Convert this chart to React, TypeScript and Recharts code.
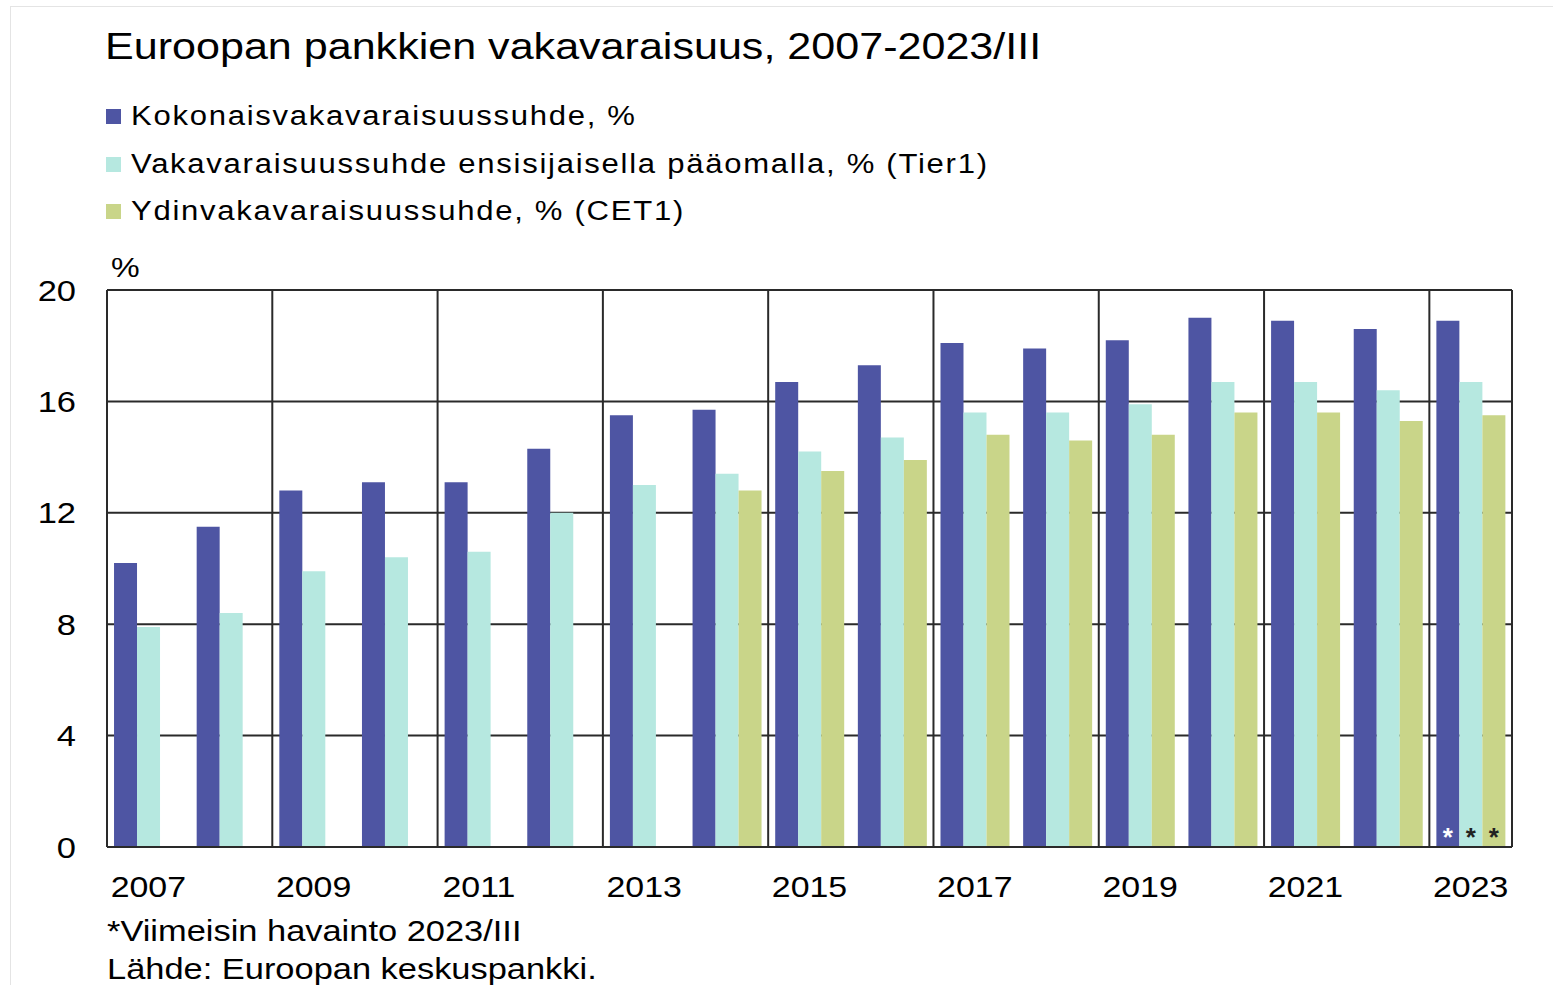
import React from "react";
import {
  BarChart,
  Bar,
  XAxis,
  YAxis,
  CartesianGrid,
  LabelList,
} from "recharts";

const years = [
  "2007", "2008", "2009", "2010", "2011", "2012", "2013", "2014", "2015",
  "2016", "2017", "2018", "2019", "2020", "2021", "2022", "2023",
];
const totalRatio = [
  10.2, 11.5, 12.8, 13.1, 13.1, 14.3, 15.5, 15.7, 16.7, 17.3, 18.1, 17.9, 18.2,
  19.0, 18.9, 18.6, 18.9,
];
const tier1Ratio = [
  7.9, 8.4, 9.9, 10.4, 10.6, 12.0, 13.0, 13.4, 14.2, 14.7, 15.6, 15.6, 15.9,
  16.7, 16.7, 16.4, 16.7,
];
const cet1Ratio = [
  null, null, null, null, null, null, null, 12.8, 13.5, 13.9, 14.8, 14.6, 14.8,
  15.6, 15.6, 15.3, 15.5,
];
const latestMark = years.map((y) => (y === "2023" ? "*" : ""));
const yTicks = [0, 4, 8, 12, 16, 20];

const data = years.map((year, i) => ({
  year,
  total: totalRatio[i],
  tier1: tier1Ratio[i],
  cet1: cet1Ratio[i],
  mark: latestMark[i],
}));

const FONT = "'Liberation Sans', Arial, sans-serif";
// the original picture is a bit stretched sideways
const STRETCH = 1.15;

const legend = [
  { color: "#4e55a3", label: "Kokonaisvakavaraisuussuhde, %" },
  {
    color: "#b6e8e0",
    label: "Vakavaraisuussuhde ensisijaisella pääomalla, % (Tier1)",
  },
  { color: "#c9d589", label: "Ydinvakavaraisuussuhde, % (CET1)" },
];

// gridlines every second year on category edges, plus the right border
const everyOtherYear = ({ offset }: any) => {
  const band = offset.width / years.length;
  const pts: number[] = [];
  for (let i = 0; i < years.length; i += 2) pts.push(offset.left + i * band);
  pts.push(offset.left + offset.width);
  return pts;
};

const StretchedTick = (props: any) => {
  const { x, y, payload, textAnchor, dy, scale } = props;
  return (
    <g transform={`translate(${x},${y})`}>
      <text
        transform={`scale(${scale},1)`}
        textAnchor={textAnchor}
        dy={dy}
        fill="#000"
        fontSize={30}
        fontFamily={FONT}
      >
        {payload.value}
      </text>
    </g>
  );
};

const wide = (k: number): React.CSSProperties => ({
  transform: `scaleX(${k})`,
  transformOrigin: "left top",
  whiteSpace: "nowrap",
});

const App = () => {
  return (
    <div
      style={{
        position: "fixed",
        left: 0,
        top: 0,
        width: 1553,
        height: 985,
        background: "#fff",
        fontFamily: FONT,
        color: "#000",
        overflow: "hidden",
      }}
    >
      <div
        style={{
          position: "absolute",
          left: 10,
          top: 6,
          width: 1600,
          height: 1000,
          borderLeft: "1px solid #e4e4e4",
          borderTop: "1px solid #e4e4e4",
        }}
      />
      <div
        style={{
          position: "absolute",
          left: 105,
          top: 26,
          fontSize: 37,
          ...wide(1.164),
        }}
      >
        Euroopan pankkien vakavaraisuus, 2007-2023/III
      </div>
      {legend.map((item, i) => (
        <div
          key={item.label}
          style={{
            position: "absolute",
            left: 106,
            top: 101 + i * 47.5,
            display: "flex",
            alignItems: "center",
          }}
        >
          <span
            style={{
              width: 15,
              height: 15,
              background: item.color,
              marginRight: 10,
              display: "inline-block",
            }}
          />
          <span style={{ fontSize: 27, letterSpacing: 1.5, ...wide(STRETCH) }}>
            {item.label}
          </span>
        </div>
      ))}
      <div
        style={{
          position: "absolute",
          left: 111,
          top: 252,
          fontSize: 28,
          ...wide(STRETCH),
        }}
      >
        %
      </div>
      <div style={{ position: "absolute", left: 0, top: 0 }}>
        <BarChart
          width={1553}
          height={985}
          data={data}
          margin={{ top: 290, right: 41, left: 47, bottom: 98 }}
          barCategoryGap="8.5%"
          barGap={0}
        >
          <CartesianGrid
            stroke="#2a2a2a"
            strokeWidth={2}
            verticalCoordinatesGenerator={everyOtherYear}
          />
          <XAxis
            dataKey="year"
            interval={1}
            tickLine={false}
            axisLine={{ stroke: "#2a2a2a", strokeWidth: 2 }}
            tickSize={0}
            tickMargin={29}
            height={40}
            tick={<StretchedTick scale={1.13} dy="0.71em" />}
          />
          <YAxis
            domain={[0, 20]}
            ticks={yTicks}
            tickLine={false}
            axisLine={{ stroke: "#2a2a2a", strokeWidth: 2 }}
            tickSize={0}
            tickMargin={31}
            width={60}
            tick={<StretchedTick scale={STRETCH} dy="0.355em" />}
          />
          <Bar dataKey="total" fill="#4e55a3" isAnimationActive={false}>
            <LabelList
              dataKey="mark"
              position="insideBottom"
              offset={1}
              fill="#fff"
              fontSize={26}
              fontWeight="bold"
            />
          </Bar>
          <Bar dataKey="tier1" fill="#b6e8e0" isAnimationActive={false}>
            <LabelList
              dataKey="mark"
              position="insideBottom"
              offset={1}
              fill="#222"
              fontSize={26}
              fontWeight="bold"
            />
          </Bar>
          <Bar dataKey="cet1" fill="#c9d589" isAnimationActive={false}>
            <LabelList
              dataKey="mark"
              position="insideBottom"
              offset={1}
              fill="#222"
              fontSize={26}
              fontWeight="bold"
            />
          </Bar>
        </BarChart>
      </div>
      <div
        style={{
          position: "absolute",
          left: 107,
          top: 912,
          fontSize: 30,
          lineHeight: "38px",
          ...wide(1.147),
        }}
      >
        <div>*Viimeisin havainto 2023/III</div>
        <div>Lähde: Euroopan keskuspankki.</div>
      </div>
    </div>
  );
};

export default App;
